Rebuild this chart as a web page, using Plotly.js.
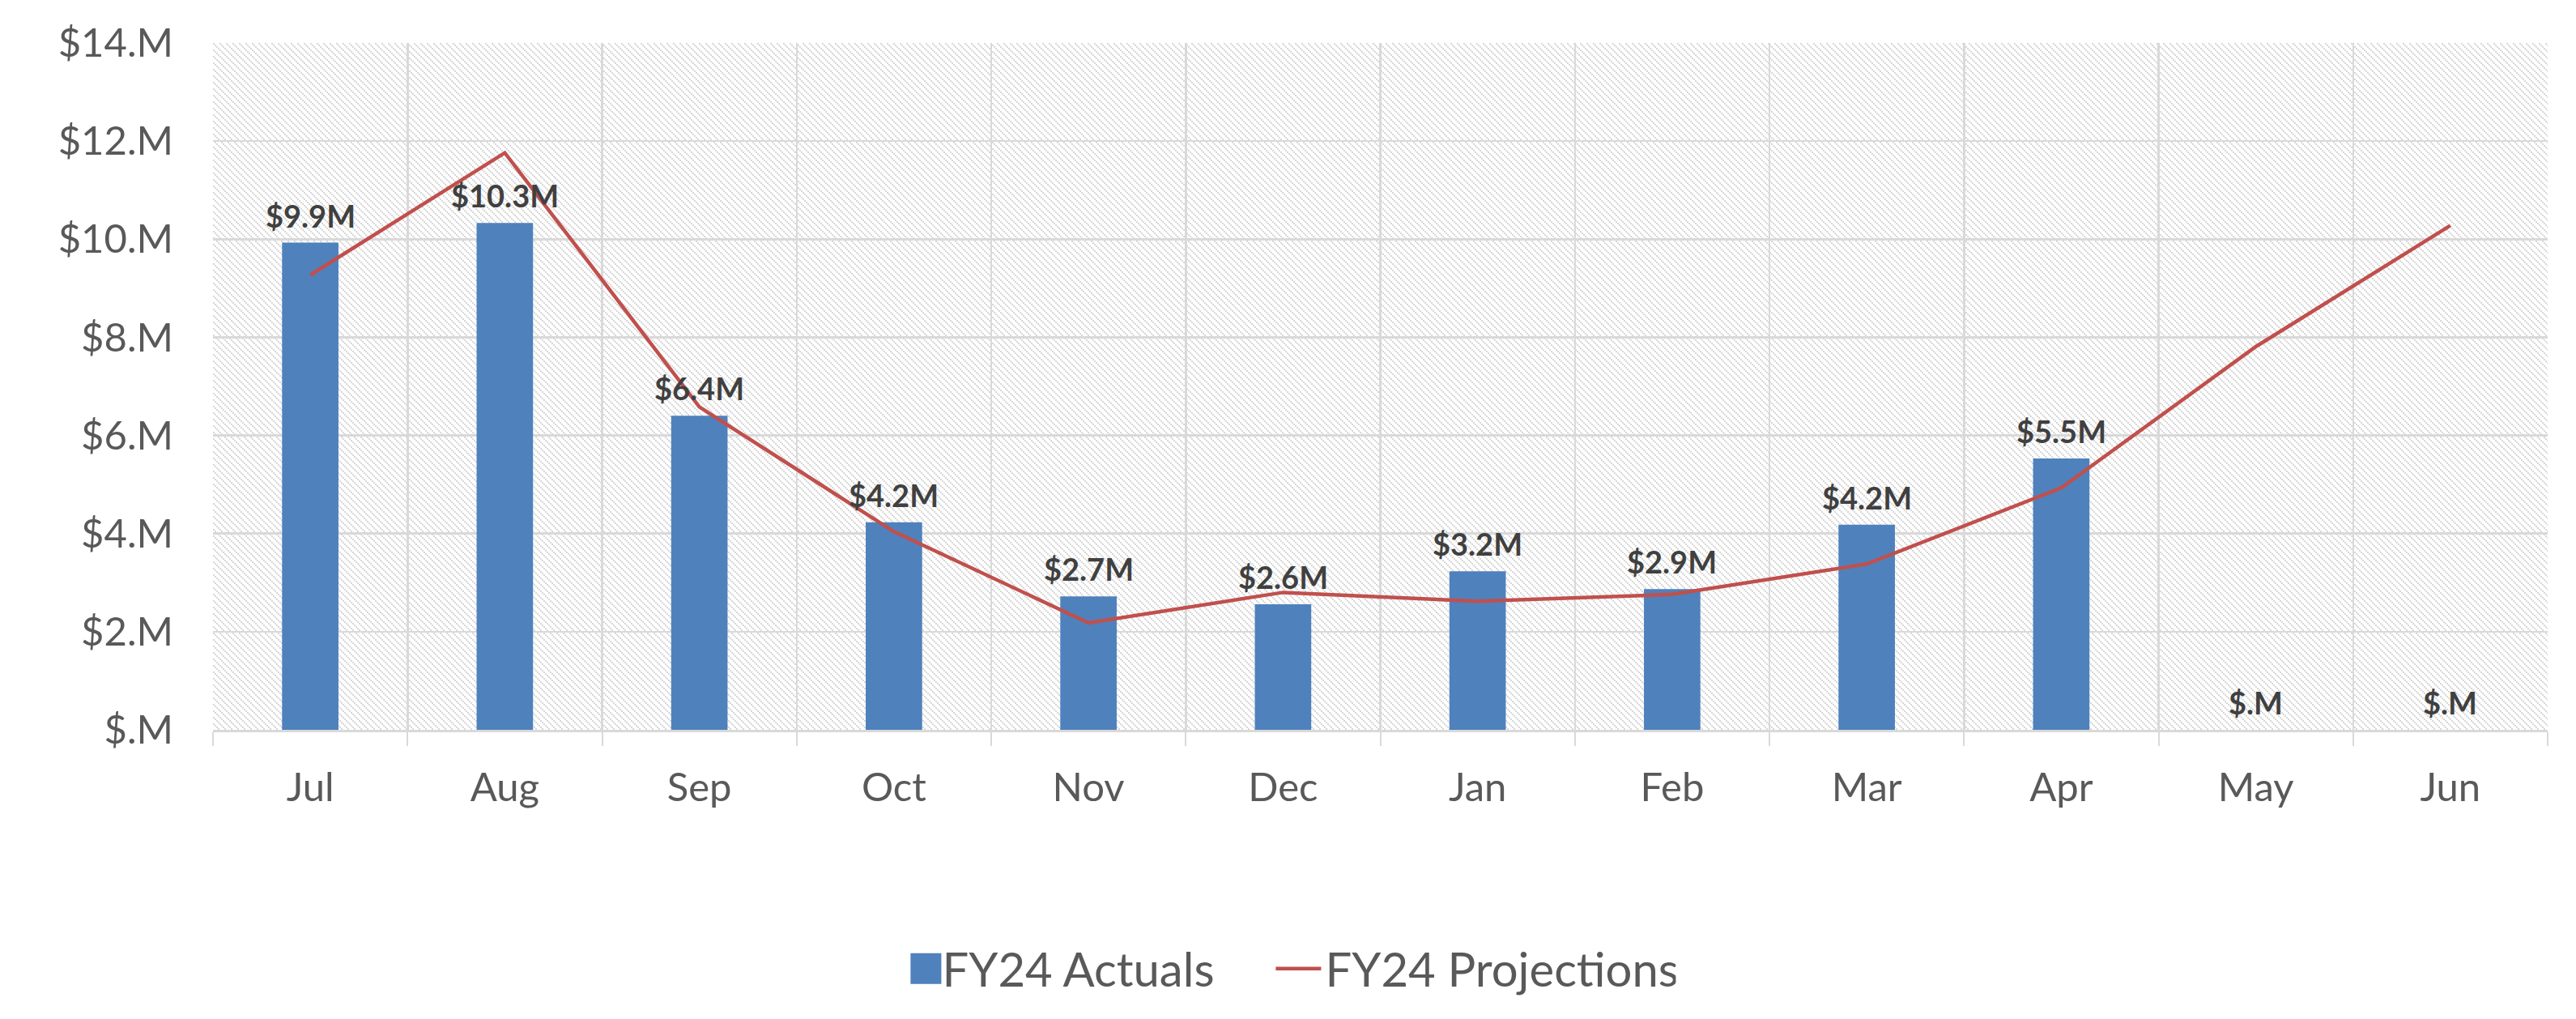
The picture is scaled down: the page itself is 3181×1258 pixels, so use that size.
<!DOCTYPE html>
<html>
<head>
<meta charset="utf-8">
<script src="https://cdn.plot.ly/plotly-3.0.1.min.js"></script>
<style>
  html, body { margin: 0; padding: 0; background: #ffffff; }
  #chart { width: 3181px; height: 1258px; }
</style>
</head>
<body>
<div id="chart"></div>
<script>
// ---- data ----
const months = ['Jul', 'Aug', 'Sep', 'Oct', 'Nov', 'Dec', 'Jan', 'Feb', 'Mar', 'Apr', 'May', 'Jun'];
const actuals = [9.93, 10.33, 6.40, 4.23, 2.72, 2.56, 3.23, 2.87, 4.18, 5.53, 0, 0];
const projections = [9.27, 11.76, 6.58, 4.04, 2.18, 2.80, 2.62, 2.76, 3.38, 4.93, 7.81, 10.28];
const yTickVals = [0, 2, 4, 6, 8, 10, 12, 14];
const yTickLabels = ['$.M', '$2.M', '$4.M', '$6.M', '$8.M', '$10.M', '$12.M', '$14.M'];
const seriesNames = ['FY24 Actuals', 'FY24 Projections'];

function fmtMillions(v) {
  return v === 0 ? '$.M' : '$' + v.toFixed(1) + 'M';
}
const actualLabels = actuals.map(fmtMillions);

// ---- hatched plot-area background (pattern image) ----
const W = 2883, H = 848;
const hc = '#d8d8d8';
const svg = "<svg xmlns='http://www.w3.org/2000/svg' width='" + W + "' height='" + H + "' shape-rendering='crispEdges'>" +
  "<defs><pattern id='h' width='8' height='8' patternUnits='userSpaceOnUse'>" +
  "<rect width='8' height='8' fill='#ffffff'/>" +
  "<rect x='0' y='0' width='2' height='2' fill='" + hc + "'/>" +
  "<rect x='2' y='2' width='2' height='2' fill='" + hc + "'/>" +
  "<rect x='4' y='4' width='2' height='2' fill='" + hc + "'/>" +
  "<rect x='6' y='6' width='2' height='2' fill='" + hc + "'/>" +
  "</pattern></defs><rect width='" + W + "' height='" + H + "' fill='url(#h)'/></svg>";
const hatchSrc = 'data:image/svg+xml;charset=utf-8,' + encodeURIComponent(svg);

const gridColor = '#d9d9d9';
const textColor = '#595959';
const labelFont = { family: 'Lato', size: 38, color: '#404040', weight: 'bold' };

const traces = [
  {
    type: 'bar',
    name: seriesNames[0],
    x: months,
    y: actuals,
    width: 0.29,
    marker: { color: '#4f81bd', line: { width: 0 } },
    hoverinfo: 'skip'
  },
  {
    type: 'scatter',
    mode: 'lines',
    name: seriesNames[1],
    x: months,
    y: projections,
    line: { color: '#c0504d', width: 4.5 },
    hoverinfo: 'skip'
  }
];

// data labels above the bars, placed through the axes' scales
const labelAnnotations = months.map(function (m, i) {
  return {
    x: m,
    y: actuals[i],
    xref: 'x',
    yref: 'y',
    text: actualLabels[i],
    showarrow: false,
    xanchor: 'center',
    yanchor: 'bottom',
    yshift: 9,
    font: labelFont
  };
});

const layout = {
  width: 3181,
  height: 1258,
  margin: { l: 263, r: 35, t: 53, b: 357, pad: 0 },
  paper_bgcolor: '#ffffff',
  plot_bgcolor: 'rgba(0,0,0,0)',
  font: { family: 'Lato', color: textColor },
  showlegend: true,
  hovermode: false,
  annotations: labelAnnotations,
  images: [{
    source: hatchSrc,
    xref: 'paper', yref: 'paper',
    x: 0, y: 1, sizex: 1, sizey: 1,
    xanchor: 'left', yanchor: 'top',
    sizing: 'stretch',
    layer: 'below'
  }],
  xaxis: {
    type: 'category',
    range: [-0.5, 11.5],
    tickson: 'boundaries',
    ticks: 'outside',
    ticklen: 17,
    tickwidth: 2,
    tickcolor: gridColor,
    showgrid: true,
    gridcolor: gridColor,
    gridwidth: 2.5,
    showline: true,
    linecolor: gridColor,
    linewidth: 2.5,
    zeroline: false,
    tickfont: { family: 'Lato', size: 49, color: textColor },
    ticklabelstandoff: 27,
    fixedrange: true
  },
  yaxis: {
    range: [0, 14],
    tickmode: 'array',
    tickvals: yTickVals,
    ticktext: yTickLabels,
    showgrid: true,
    gridcolor: gridColor,
    gridwidth: 2.5,
    zeroline: false,
    showline: false,
    ticks: '',
    tickfont: { family: 'Lato', size: 49, color: textColor },
    ticklabelstandoff: 48,
    fixedrange: true
  },
  legend: {
    orientation: 'h',
    x: 0.4625,
    xanchor: 'center',
    y: -0.348,
    yanchor: 'middle',
    font: { family: 'Lato', size: 58, color: textColor },
    entrywidth: 428,
    entrywidthmode: 'pixels',
    bgcolor: 'rgba(0,0,0,0)',
    traceorder: 'normal'
  }
};

Plotly.newPlot('chart', traces, layout, { displayModeBar: false, staticPlot: true }).then(function (gd) {
  // enlarge legend symbols to match the reference
  gd.querySelectorAll('.legend .traces path').forEach(function (p) {
    const d = (p.getAttribute('d') || '').replace(/\s/g, '');
    if (d.indexOf('H') >= 0 && d.indexOf('V') >= 0) {
      p.setAttribute('d', 'M19,19H-19V-19H19Z');
    } else if (d.indexOf('M5,0h30') === 0) {
      p.setAttribute('d', 'M-21,0h56');
    }
  });
});
</script>
</body>
</html>
